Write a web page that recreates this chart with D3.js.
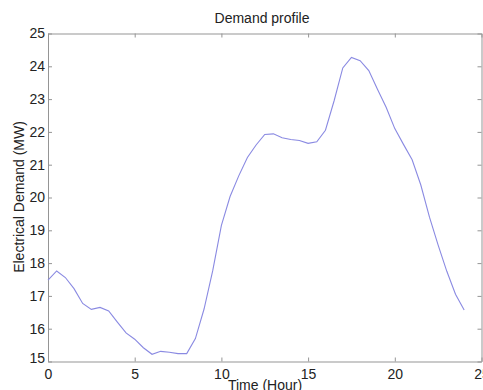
<!DOCTYPE html>
<html>
<head>
<meta charset="utf-8">
<script src="https://cdn.jsdelivr.net/npm/d3@7"></script>
<style>
  body { margin: 0; background: #fff; }
  svg { display: block; font-family: "Liberation Sans", Arial, sans-serif; }
</style>
</head>
<body>
<div id="chart"></div>
<script>
// Half-hourly demand values
const hours = [0, 0.5, 1, 1.5, 2, 2.5, 3, 3.5, 4, 4.5, 5, 5.5, 6, 6.5, 7, 7.5, 8, 8.5, 9, 9.5,
  10, 10.5, 11, 11.5, 12, 12.5, 13, 13.5, 14, 14.5, 15, 15.5, 16, 16.5, 17, 17.5, 18, 18.5, 19, 19.5,
  20, 20.5, 21, 21.5, 22, 22.5, 23, 23.5, 24];
const demand = [17.48, 17.76, 17.56, 17.22, 16.77, 16.59, 16.65, 16.54, 16.2, 15.87, 15.68, 15.42, 15.22, 15.31, 15.28, 15.24, 15.24, 15.7, 16.6, 17.77,
  19.15, 20.03, 20.66, 21.22, 21.6, 21.92, 21.94, 21.82, 21.77, 21.74, 21.65, 21.7, 22.05, 22.95, 23.95, 24.27, 24.17, 23.87, 23.3, 22.75,
  22.1, 21.62, 21.15, 20.38, 19.4, 18.55, 17.75, 17.05, 16.57];
const xTicks = [0, 5, 10, 15, 20, 25];
const yTicks = [15, 16, 17, 18, 19, 20, 21, 22, 23, 24, 25];

const width = 483, height = 390;
const margin = { top: 33.5, right: 1.5, bottom: 28.5, left: 48 };

const svg = d3.select("#chart").append("svg")
  .attr("width", width)
  .attr("height", height);

const x = d3.scaleLinear().domain([0, 25]).range([margin.left, width - margin.right]);
const y = d3.scaleLinear().domain([15, 25]).range([height - margin.bottom, margin.top]);

const axisColor = "#959595";
const tickLen = 4;

// box + inward ticks on all four sides
function styleAxis(g) {
  g.select(".domain").attr("stroke", axisColor);
  g.selectAll(".tick line").attr("stroke", axisColor);
  g.selectAll(".tick text").attr("fill", "#222").attr("font-size", 14);
}

svg.append("g")
  .attr("transform", `translate(0,${y(15)})`)
  .call(d3.axisBottom(x).tickValues(xTicks).tickSizeInner(-tickLen).tickSizeOuter(0).tickPadding(6))
  .call(styleAxis)
  .call(g => g.selectAll(".tick text").attr("dy", "0.85em"));

svg.append("g")
  .attr("transform", `translate(0,${y(25)})`)
  .call(d3.axisTop(x).tickValues(xTicks).tickSizeInner(-tickLen).tickSizeOuter(0).tickFormat(""))
  .call(styleAxis);

svg.append("g")
  .attr("transform", `translate(${x(0)},0)`)
  .call(d3.axisLeft(y).tickValues(yTicks).tickSizeInner(-tickLen).tickSizeOuter(0).tickPadding(3))
  .call(styleAxis)
  .call(g => g.selectAll(".tick text").filter(d => d === 15).attr("dy", "0.1em"));

svg.append("g")
  .attr("transform", `translate(${x(25)},0)`)
  .call(d3.axisRight(y).tickValues(yTicks).tickSizeInner(-tickLen).tickSizeOuter(0).tickFormat(""))
  .call(styleAxis);

// demand line
const line = d3.line()
  .x((d, i) => x(hours[i]))
  .y(d => y(d));

svg.append("path")
  .datum(demand)
  .attr("fill", "none")
  .attr("stroke", "#8a8ae2")
  .attr("stroke-width", 1.1)
  .attr("d", line);

// title and labels
svg.append("text")
  .attr("x", 262)
  .attr("y", 23)
  .attr("text-anchor", "middle")
  .attr("font-size", 14)
  .attr("fill", "#222")
  .text("Demand profile");

svg.append("text")
  .attr("x", 265)
  .attr("y", 390)
  .attr("text-anchor", "middle")
  .attr("font-size", 14)
  .attr("fill", "#222")
  .text("Time (Hour)");

svg.append("text")
  .attr("transform", `translate(24,${197}) rotate(-90)`)
  .attr("text-anchor", "middle")
  .attr("font-size", 14)
  .attr("fill", "#222")
  .text("Electrical Demand (MW)");
</script>
</body>
</html>
